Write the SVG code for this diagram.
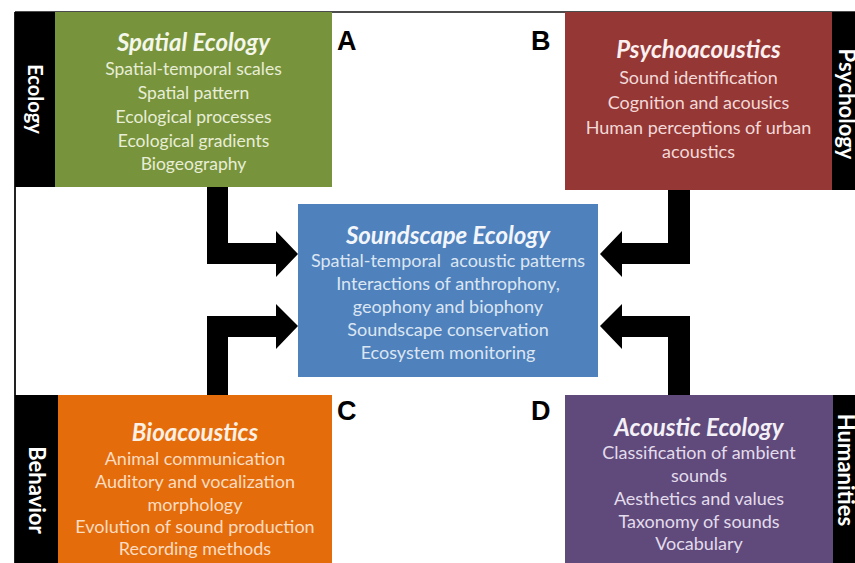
<svg xmlns="http://www.w3.org/2000/svg" width="855" height="563" viewBox="0 0 855 563">
<style>
  .t { font-family: Lato, "Open Sans", "Liberation Sans", sans-serif; font-size: 24px; font-weight: 700; font-style: italic; text-anchor: middle; }
  .b { font-family: Lato, "Open Sans", "Liberation Sans", sans-serif; font-size: 18px; text-anchor: middle; }
  .side { font-family: Lato, "Open Sans", "Liberation Sans", sans-serif; font-size: 20px; font-weight: 700; fill: #ffffff; text-anchor: middle; }
  .letter { font-family: "Liberation Sans", Arial, sans-serif; font-size: 27px; font-weight: 700; fill: #000000; }
  .bar { fill: #000000; }
  .arrow { fill: #000000; }
</style>
<rect x="0" y="0" width="855" height="563" fill="#ffffff"/>
<g id="frame">
  <line x1="15" y1="12" x2="855" y2="12" stroke="#111111" stroke-width="1.5"/>
  <line x1="15" y1="12" x2="15" y2="563" stroke="#222222" stroke-width="2"/>
</g>
<g id="connectors">
  <polygon class="arrow" points="207,187 228,187 228,243 276,243 276,231 298,254 276,277 276,264 207,264"/>
  <polygon class="arrow" points="207,395 228,395 228,337 276,337 276,349 298,326 276,304 276,316 207,316"/>
  <polygon class="arrow" points="690,190 668,190 668,243 622,243 622,231 600,254 622,277 622,264 690,264"/>
  <polygon class="arrow" points="690,395 668,395 668,337 622,337 622,349 600,326 622,304 622,316 690,316"/>
</g>
<g id="node-a">
  <rect class="bar" x="15" y="12" width="40" height="175"/>
  <text class="side" transform="translate(28,99) rotate(90)">Ecology</text>
  <rect x="55" y="12" width="277" height="175" fill="#77933c"/>
  <text class="t" x="193.5" y="51" fill="#f4f7ea">Spatial Ecology</text>
  <g class="b" fill="#e8eed6" style="font-size:17.5px">
    <text x="193.5" y="75">Spatial-temporal scales</text>
    <text x="193.5" y="99">Spatial pattern</text>
    <text x="193.5" y="123">Ecological processes</text>
    <text x="193.5" y="147">Ecological gradients</text>
    <text x="193.5" y="170">Biogeography</text>
  </g>
  <text class="letter" x="337" y="50">A</text>
</g>
<g id="node-b">
  <rect x="565" y="12" width="267" height="178" fill="#953735"/>
  <rect class="bar" x="832" y="12" width="23" height="178"/>
  <text class="side" style="font-size:22px" transform="translate(839,104) rotate(90)">Psychology</text>
  <text class="t" x="698.5" y="58" fill="#fbefef">Psychoacoustics</text>
  <g class="b" fill="#f2d9d8">
    <text x="698.5" y="84">Sound identification</text>
    <text x="698.5" y="109">Cognition and acousics</text>
    <text x="698.5" y="134">Human perceptions of urban</text>
    <text x="698.5" y="158">acoustics</text>
  </g>
  <text class="letter" x="531" y="50">B</text>
</g>
<g id="node-center">
  <rect x="298" y="204" width="300" height="173" fill="#4f81bd"/>
  <text class="t" x="448" y="244" fill="#f2f6fb">Soundscape Ecology</text>
  <g class="b" fill="#dce6f2">
    <text x="448" y="267" xml:space="preserve" style="white-space:pre">Spatial-temporal  acoustic patterns</text>
    <text x="448" y="290">Interactions of anthrophony,</text>
    <text x="448" y="313">geophony and biophony</text>
    <text x="448" y="336">Soundscape conservation</text>
    <text x="448" y="359">Ecosystem monitoring</text>
  </g>
</g>
<g id="node-c">
  <rect class="bar" x="15" y="395" width="43" height="168"/>
  <text class="side" style="font-size:22px" transform="translate(29,490) rotate(90)">Behavior</text>
  <rect x="58" y="395" width="274" height="168" fill="#e46c0a"/>
  <text class="t" x="195" y="441" fill="#fdf0e4">Bioacoustics</text>
  <g class="b" fill="#fbdcc2">
    <text x="195" y="465">Animal communication</text>
    <text x="195" y="488">Auditory and vocalization</text>
    <text x="195" y="511">morphology</text>
    <text x="195" y="533">Evolution of sound production</text>
    <text x="195" y="555">Recording methods</text>
  </g>
  <text class="letter" x="337" y="420">C</text>
</g>
<g id="node-d">
  <rect x="565" y="395" width="268" height="168" fill="#604a7b"/>
  <rect class="bar" x="833" y="395" width="22" height="168"/>
  <text class="side" style="font-size:22px" transform="translate(838,470) rotate(90)">Humanities</text>
  <text class="t" x="699" y="436" fill="#f3f0f7">Acoustic Ecology</text>
  <g class="b" fill="#e3dcec">
    <text x="699" y="459">Classification of ambient</text>
    <text x="699" y="482">sounds</text>
    <text x="699" y="505">Aesthetics and values</text>
    <text x="699" y="528">Taxonomy of sounds</text>
    <text x="699" y="550">Vocabulary</text>
  </g>
  <text class="letter" x="531" y="420">D</text>
</g>
</svg>
